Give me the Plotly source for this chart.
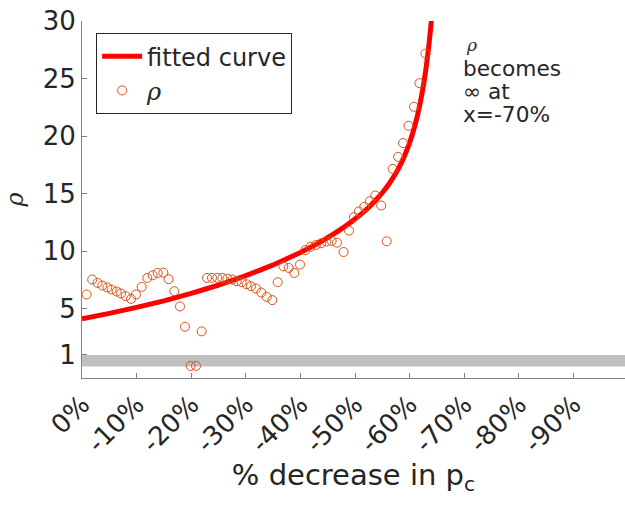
import plotly.graph_objects as go

# ---- data ----
curve_x = [0, 5, 10, 15, 20, 25, 30, 35, 40, 44, 48, 50, 52, 54, 55, 56, 57, 58, 59,
           60, 61, 61.5, 62, 62.5, 63, 63.5, 64, 64.5]
curve_y = [4.15, 4.61, 5.13, 5.70, 6.35, 7.07, 7.89, 8.82, 9.90, 10.90, 12.10, 12.80, 13.59,
           14.54, 15.09, 15.70, 16.41, 17.23, 18.22, 19.43, 20.97, 21.92, 23.01, 24.31, 25.86,
           27.74, 30.08, 33.04]

rho_x = [0.85, 1.87, 2.84, 3.72, 4.64, 5.43, 6.35, 7.14, 8.0, 8.97, 9.89, 10.93, 11.96, 12.94,
         13.86, 14.9, 15.87, 16.91, 17.95, 18.86, 19.9, 20.88, 21.92, 22.9, 23.81, 24.79, 25.7,
         26.62, 27.53, 28.33, 29.24, 30.16, 30.95, 31.87, 32.84, 33.82, 34.86, 35.84, 36.87,
         37.85, 38.89, 39.93, 40.9, 41.88, 42.84, 43.8, 44.76, 45.72, 46.7, 47.9, 48.9, 49.8,
         50.7, 51.7, 52.7, 53.7, 54.8, 55.8, 56.9, 57.9, 58.8, 59.8, 60.8, 61.8, 62.9]
rho_y = [6.25, 7.55, 7.26, 7.03, 6.86, 6.68, 6.51, 6.34, 6.10, 5.87, 6.25, 6.91, 7.69, 7.92,
         8.12, 8.15, 7.58, 6.54, 5.21, 3.45, 0.05, 0.05, 3.05, 7.69, 7.69, 7.69, 7.69, 7.63,
         7.55, 7.40, 7.32, 7.14, 6.97, 6.77, 6.42, 6.04, 5.76, 7.32, 8.70, 8.56, 8.12, 8.85,
         10.1, 10.4, 10.55, 10.7, 10.85, 10.9, 10.75, 9.94, 11.8, 12.97, 13.46, 13.87, 14.35,
         14.85, 13.98, 10.87, 17.16, 18.2, 19.4, 20.9, 22.55, 24.6, 27.17]

x_tickvals = [0, 10, 20, 30, 40, 50, 60, 70, 80, 90]
x_ticktext = ["0%", "-10%", "-20%", "-30%", "-40%", "-50%", "-60%", "-70%", "-80%", "-90%"]
y_tickvals = [1, 5, 10, 15, 20, 25, 30]
band_y = [0, 1]
annot_lines = ["becomes", "\u221e at", "x=-70%"]

FONT = "DejaVu Sans"
TXT = "#262626"
AX = "#808080"
RHO = '<span style="font-family:DejaVu Serif"><i>\u03c1</i></span>'

fig = go.Figure()
fig.add_trace(go.Scatter(x=curve_x, y=curve_y, mode="lines", name="fitted curve",
                         line=dict(color="#ff0000", width=5, shape="spline", smoothing=0.3)))
fig.add_trace(go.Scatter(x=rho_x, y=rho_y, mode="markers", name=RHO,
                         marker=dict(symbol="circle-open", size=9, color="#d95319",
                                     line=dict(width=1, color="#d95319"))))

fig.add_shape(type="rect", xref="x", yref="y", x0=0, x1=100, y0=band_y[0], y1=band_y[1],
              fillcolor="#c0c0c0", line=dict(width=0), layer="below")

# annotation text block
fig.add_annotation(x=70, y=27.9, xref="x", yref="y", text=RHO, showarrow=False,
                   xanchor="left", yanchor="middle", font=dict(size=17, color=TXT, family=FONT))
for t, yy in zip(annot_lines, [25.9, 23.85, 21.86]):
    fig.add_annotation(x=70, y=yy, xref="x", yref="y", text=t, showarrow=False,
                       xanchor="left", yanchor="middle", xshift=-3,
                       font=dict(size=21.7, color=TXT, family=FONT))

fig.update_layout(
    width=625, height=506,
    margin=dict(l=82, r=0, t=21, b=128),
    paper_bgcolor="white", plot_bgcolor="white",
    font=dict(family=FONT, color=TXT),
    showlegend=True,
    legend=dict(x=0.026, y=0.966, xanchor="left", yanchor="top",
                bordercolor="#262626", borderwidth=1, bgcolor="white",
                font=dict(size=24, color=TXT, family=FONT),
                tracegroupgap=0, itemwidth=40),
    xaxis=dict(range=[0, 99.45], tickvals=x_tickvals, ticktext=x_ticktext, tickangle=-45,
               ticks="inside", ticklen=5, tickcolor=AX, showline=True, linecolor=AX,
               linewidth=1, showgrid=False, zeroline=False,
               tickfont=dict(size=26, color=TXT, family=FONT),
               title=dict(text="% decrease in p<sub>c</sub>", font=dict(size=29, color=TXT, family=FONT),
                          standoff=0)),
    yaxis=dict(range=[-1, 30], tickvals=y_tickvals, ticks="inside", ticklen=5, tickcolor=AX,
               showline=True, linecolor=AX, linewidth=1, showgrid=False, zeroline=False,
               tickfont=dict(size=26, color=TXT, family=FONT),
               title=dict(text=RHO, font=dict(size=24, color=TXT, family=FONT), standoff=12)),
)

fig.write_html("out.html")
